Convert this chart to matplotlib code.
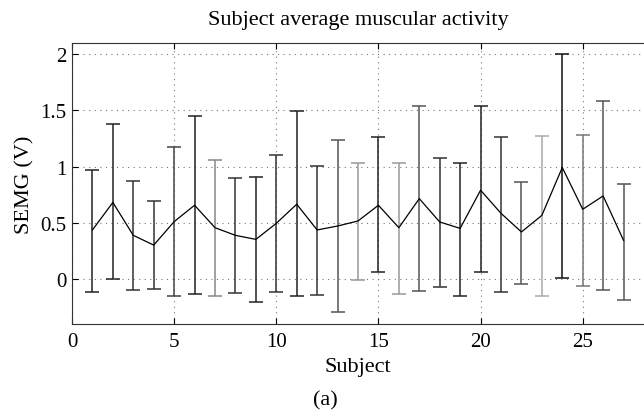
import numpy as np
import matplotlib
matplotlib.use('Agg')
import matplotlib.pyplot as plt

plt.rcParams['font.family'] = ['Liberation Serif', 'DejaVu Serif']

# subjects, mean activity and spread
subjects = list(range(1, 28))
upper = [0.973, 1.375, 0.872, 0.69, 1.17, 1.452, 1.062, 0.902, 0.911, 1.101,
         1.497, 1.009, 1.232, 1.03, 1.259, 1.03, 1.542, 1.08, 1.03, 1.536,
         1.265, 0.863, 1.268, 2.0, 1.283, 1.58, 0.842]
lower = [-0.122, -0.006, -0.098, -0.089, -0.155, -0.134, -0.155, -0.131, -0.205, -0.122,
         -0.155, -0.143, -0.30, -0.009, 0.06, -0.134, -0.11, -0.074, -0.149, 0.06,
         -0.116, -0.048, -0.149, 0.003, -0.065, -0.101, -0.19]
means = [0.435, 0.68, 0.387, 0.30, 0.509, 0.655, 0.455, 0.387, 0.351, 0.494,
         0.664, 0.435, 0.47, 0.515, 0.655, 0.455, 0.714, 0.506, 0.449, 0.789,
         0.583, 0.417, 0.565, 0.991, 0.619, 0.738, 0.342]

# scanned bars come out in slightly different greys
bar_greys = ['#222222', '#222222', '#333333', '#333333', '#444444', '#222222', '#888888',
             '#333333', '#222222', '#333333', '#222222', '#333333', '#555555', '#999999',
             '#222222', '#999999', '#555555', '#333333', '#222222', '#222222', '#333333',
             '#555555', '#aaaaaa', '#111111', '#777777', '#555555', '#555555']

fig = plt.figure(figsize=(6.44, 4.14), dpi=100)
ax = fig.add_axes([0.1118, 0.2157, 0.8882, 0.678])

m = np.array(means)
yerr = np.vstack([m - np.array(lower), np.array(upper) - m])
for i, x in enumerate(subjects):
    ax.errorbar([x], [m[i]], yerr=yerr[:, i:i + 1], fmt='none', ecolor=bar_greys[i],
                elinewidth=1.1, capsize=5, capthick=1.1)
ax.plot(subjects, means, color='black', lw=0.9)

ax.set_xlim(0, 28)
ax.set_ylim(-0.4, 2.1)
ax.set_xticks([0, 5, 10, 15, 20, 25])
ax.set_yticks([0, 0.5, 1, 1.5, 2])
ax.set_yticklabels(['0', '0.5', '1', '1.5', '2'])
ax.grid(True, linestyle=(0, (1, 4)), color='#777777', lw=0.8)
ax.tick_params(direction='in', top=True, right=False, labelsize=15, length=4)
ax.tick_params(axis='x', pad=6)
ax.tick_params(axis='y', pad=4)
ax.spines['right'].set_visible(False)
for s in ['left', 'bottom', 'top']:
    ax.spines[s].set_color('#333333')

ax.set_title('Subject average muscular activity', fontsize=16, pad=14)
ax.set_xlabel('Subject', fontsize=16, labelpad=4)
ax.set_ylabel('SEMG (V)', fontsize=16, labelpad=4)
fig.text(0.505, 0.031, '(a)', ha='center', va='center', fontsize=16)

fig.savefig('out.png', dpi=100)
